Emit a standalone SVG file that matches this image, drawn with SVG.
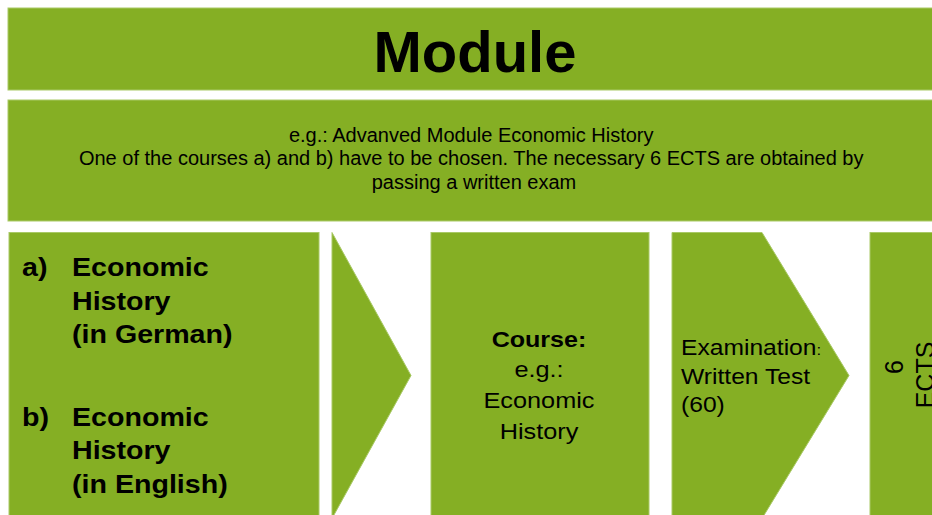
<svg xmlns="http://www.w3.org/2000/svg" width="932" height="515" viewBox="0 0 932 515">
  <style>
    .box { fill: #85AF24; stroke: #a9c966; stroke-width: 1; }
    .t { font-family: "Liberation Sans", Arial, sans-serif; fill: #000; }
    .b { font-weight: bold; }
  </style>
  <rect x="0" y="0" width="932" height="515" fill="#ffffff"/>
  <g id="module">
    <rect class="box" x="8" y="8" width="934" height="82"/>
    <text class="t b" x="475" y="72" font-size="58" text-anchor="middle">Module</text>
  </g>
  <g id="description">
    <rect class="box" x="8" y="100" width="934" height="121"/>
    <text class="t" font-size="20" text-anchor="middle">
      <tspan x="474" y="141.5">e.g.: Advanved Module Economic History</tspan>
      <tspan x="474" y="165">One of the courses a) and b) have to be chosen. The necessary 6 ECTS are obtained by</tspan>
      <tspan x="474" y="188.5">passing a written exam</tspan>
    </text>
  </g>
  <g id="courses">
    <rect class="box" x="9" y="232.5" width="310" height="290"/>
    <g class="t b" font-size="26">
      <text transform="translate(22,276) scale(1.1,1)">a)</text>
      <text transform="translate(72,276) scale(1.1,1)">Economic</text>
      <text transform="translate(72,310) scale(1.1,1)">History</text>
      <text transform="translate(72,343) scale(1.1,1)">(in German)</text>
      <text transform="translate(22,425.5) scale(1.1,1)">b)</text>
      <text transform="translate(72,425.5) scale(1.1,1)">Economic</text>
      <text transform="translate(72,459) scale(1.1,1)">History</text>
      <text transform="translate(72,492.5) scale(1.1,1)">(in English)</text>
    </g>
  </g>
  <g id="connectors">
    <polygon class="box" points="332,232.5 411,375.5 332,518.5"/>
  </g>
  <g id="course">
    <rect class="box" x="431" y="232.5" width="218" height="290"/>
    <g class="t" font-size="22" text-anchor="middle">
      <text class="b" transform="translate(539,347) scale(1.14,1)">Course:</text>
      <text transform="translate(539,377) scale(1.15,1)">e.g.:</text>
      <text transform="translate(539,407.5) scale(1.15,1)">Economic</text>
      <text transform="translate(539,438.5) scale(1.15,1)">History</text>
    </g>
  </g>
  <g id="examination">
    <polygon class="box" points="672,232.5 762,232.5 849,375.5 762,518.5 672,518.5"/>
    <g class="t" font-size="22">
      <text transform="translate(681,354.5) scale(1.12,1)">Examination<tspan font-size="15">:</tspan></text>
      <text transform="translate(681,383.5) scale(1.12,1)">Written Test</text>
      <text transform="translate(681,412) scale(1.12,1)">(60)</text>
    </g>
  </g>
  <g id="ects">
    <rect class="box" x="870" y="232.5" width="80" height="290"/>
    <g class="t" font-size="25" text-anchor="middle">
      <text transform="translate(903,367) rotate(-90)">6</text>
      <text transform="translate(933.5,375) rotate(-90)">ECTS</text>
    </g>
  </g>
</svg>
